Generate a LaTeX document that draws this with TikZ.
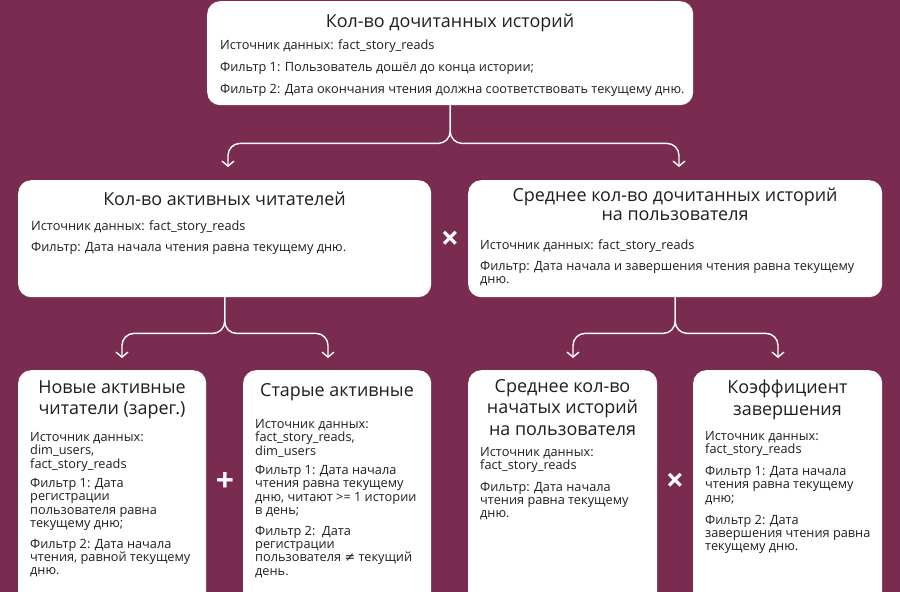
\documentclass[tikz,border=0pt]{standalone}
\usepackage{fontspec}
\setmainfont{Open Sans}
\newfontfamily\symfont{DejaVu Sans}
\usetikzlibrary{arrows.meta,positioning}
\definecolor{BackClr}{HTML}{7A2C50}
\definecolor{TextClr}{HTML}{1E1E1E}

\tikzset{
  card/.style={rectangle,fill=white,rounded corners=13bp,inner sep=0pt,anchor=north west},
  head/.style={anchor=north,align=center,inner sep=0pt,text=TextClr,font=\fontsize{18}{21.5}\selectfont,
    execute at begin node={\rule{0pt}{16bp}}},
  body/.style={anchor=north west,align=left,inner sep=0pt,text=TextClr,font=\fontsize{12.8}{13.4}\selectfont,
    execute at begin node={\rule{0pt}{12bp}}},
  brace/.style={draw=white,line width=1.4bp,rounded corners=12bp,-{Straight Barb[length=5bp,width=12bp]}},
  sign/.style={inner sep=0pt,text=white,font=\fontsize{32}{32}\selectfont\bfseries}
}

\begin{document}
\begin{tikzpicture}[x=1bp,y=-1bp]
\fill[BackClr] (0,0) rectangle (900,592);
\useasboundingbox (0,0) rectangle (900,592);
\clip (0,0) rectangle (900,592);

\node[card,minimum width=486bp,minimum height=104bp] (top) at (207,1) {};
\node[card,minimum width=413bp,minimum height=117bp] (act) at (18,180) {};
\node[card,minimum width=414bp,minimum height=117bp] (avg) at (468,180) {};
\node[card,minimum width=188bp,minimum height=240bp] (new) at (18,370) {};
\node[card,minimum width=188bp,minimum height=240bp] (old) at (243,370) {};
\node[card,minimum width=189bp,minimum height=240bp] (beg) at (468,370) {};
\node[card,minimum width=189bp,minimum height=240bp] (fin) at (693,370) {};

\node[head] (topH) at (450,11) {Кол-во дочитанных историй};
\node[body] (topB) at (220,40) {Источник данных: fact\_story\_reads\\[8.6bp]
  Фильтр 1: Пользователь дошёл до конца истории;\\[8.6bp]
  Фильтр 2: Дата окончания чтения должна соответствовать текущему дню.};

\node[head] (actH) at (224.5,189) {Кол-во активных читателей};
\node[body] (actB) at (31,221) {Источник данных: fact\_story\_reads\\[7bp]
  Фильтр: Дата начала чтения равна текущему дню.};

\node[head] (avgH) at (675,188) {Среднее кол-во дочитанных историй\\[-3bp]на пользователя};
\node[body] (avgB) at (480,240) {Источник данных: fact\_story\_reads\\[7bp]
  Фильтр: Дата начала и завершения чтения равна текущему\\дню.};

\node[head] (newH) at (112,380) {Новые активные\\читатели (зарег.)};
\node[body] (newB) at (30,432) {Источник данных:\\dim\_users,\\fact\_story\_reads\\[6bp]
  Фильтр 1: Дата\\регистрации\\пользователя равна\\текущему дню;\\[7.5bp]
  Фильтр 2: Дата начала\\чтения, равной текущему\\дню.};

\node[head] (oldH) at (337,380) {Старые активные};
\node[body] (oldB) at (255,419) {Источник данных:\\fact\_story\_reads,\\dim\_users\\[6bp]
  Фильтр 1: Дата начала\\чтения равна текущему\\дню, читают >= 1 истории\\в день;\\[7.5bp]
  Фильтр 2:\ \ Дата\\регистрации\\пользователя {\symfont≠} текущий\\день.};

\node[head] (begH) at (562.5,379) {Среднее кол-во\\начатых историй\\на пользователя};
\node[body] (begB) at (480,447) {Источник данных:\\fact\_story\_reads\\[8bp]
  Фильтр: Дата начала\\чтения равна текущему\\дню.};

\node[head] (finH) at (787.5,380) {Коэффициент\\завершения};
\node[body] (finB) at (705,431) {Источник данных:\\fact\_story\_reads\\[8.5bp]
  Фильтр 1: Дата начала\\чтения равна текущему\\дню;\\[8.5bp]
  Фильтр 2: Дата\\завершения чтения равна\\текущему дню.};

\node[sign] (mulA) at (450,240) {×};
\node[sign] (addB) at (225,482) {+};
\node[sign] (mulB) at (675,482) {×};

\coordinate (tipA) at (228,167);
\coordinate (tipB) at (679,167);
\coordinate (tipC) at (122,358);
\coordinate (tipD) at (328,358);
\coordinate (tipE) at (573,358);
\coordinate (tipF) at (778,358);

\draw[brace] (top.south) -- ++(0,38) -| (tipA);
\draw[brace] (top.south) -- ++(0,38) -| (tipB);
\draw[brace] (act.south) -- ++(0,36) -| (tipC);
\draw[brace] (act.south) -- ++(0,36) -| (tipD);
\draw[brace] (avg.south) -- ++(0,36) -| (tipE);
\draw[brace] (avg.south) -- ++(0,36) -| (tipF);

\end{tikzpicture}
\end{document}
